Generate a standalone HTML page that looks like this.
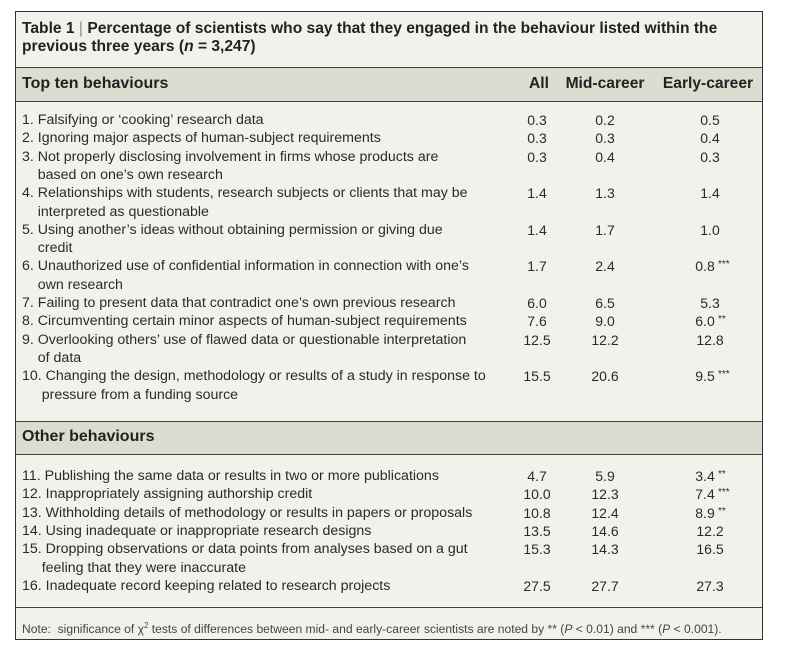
<!DOCTYPE html>
<html><head><meta charset="utf-8"><style>
body{margin:0;width:787px;height:657px;background:#fff;position:relative;overflow:hidden;font-family:"Liberation Sans",sans-serif;color:#2a2a2a}
.box{position:absolute;left:15px;top:11px;width:748px;height:629px;border:1px solid #333;background:#f2f2ed;box-sizing:border-box}
.band{position:absolute;left:16px;width:746px;background:#dcdcd0;border-top:1px solid #444;border-bottom:1px solid #444}
.t{position:absolute;white-space:nowrap;font-size:14.2px;line-height:16px}
.b{font-weight:bold;font-size:16px;color:#222}
.n{position:absolute;font-size:14px;line-height:16px;width:60px;text-align:center;white-space:nowrap}
.h{font-size:15.6px}
.s{position:absolute;font-size:10px;line-height:12px;white-space:nowrap}
</style></head><body>
<div class="box"></div>
<div class="t b" style="left:22px;top:21px;font-size:15.6px">Table 1 <span style="font-weight:normal;color:#888">|</span> Percentage of scientists who say that they engaged in the behaviour listed within the</div>
<div class="t b" style="left:22px;top:39px;font-size:15.6px">previous three years (<i>n</i> = 3,247)</div>
<div class="band" style="top:67px;height:33px"></div>
<div class="t b" style="left:22px;top:76px">Top ten behaviours</div>
<div class="n b h" style="left:509px;top:76px">All</div>
<div class="n b h" style="left:560px;top:76px;width:90px">Mid-career</div>
<div class="n b h" style="left:658px;top:76px;width:100px">Early-career</div>
<div class="band" style="top:421px;height:32px"></div>
<div class="t b" style="left:22px;top:429px">Other behaviours</div>
<div style="position:absolute;left:16px;top:607px;width:746px;border-top:1px solid #444"></div>
<div class="t" style="left:22px;top:618px;font-size:12.1px;color:#444">Note:&nbsp; significance of χ<sup style="font-size:8px">2</sup> tests of differences between mid- and early-career scientists are noted by ** (<i>P</i> &lt; 0.01) and *** (<i>P</i> &lt; 0.001).</div>
<div id="rows"></div>
<script>
var rows=[
[120,"1. Falsifying or ‘cooking’ research data","0.3","0.2","0.5",""],
[138.3,"2. Ignoring major aspects of human-subject requirements","0.3","0.3","0.4",""],
[156.6,"3. Not properly disclosing involvement in firms whose products are","0.3","0.4","0.3",""],
[174.9,"&nbsp;&nbsp;&nbsp;&nbsp;based on one’s own research"],
[193.2,"4. Relationships with students, research subjects or clients that may be","1.4","1.3","1.4",""],
[211.5,"&nbsp;&nbsp;&nbsp;&nbsp;interpreted as questionable"],
[229.8,"5. Using another’s ideas without obtaining permission or giving due","1.4","1.7","1.0",""],
[248.1,"&nbsp;&nbsp;&nbsp;&nbsp;credit"],
[266.4,"6. Unauthorized use of confidential information in connection with one’s","1.7","2.4","0.8","***"],
[284.7,"&nbsp;&nbsp;&nbsp;&nbsp;own research"],
[303,"7. Failing to present data that contradict one’s own previous research","6.0","6.5","5.3",""],
[321.3,"8. Circumventing certain minor aspects of human-subject requirements","7.6","9.0","6.0","**"],
[339.6,"9. Overlooking others’ use of flawed data or questionable interpretation","12.5","12.2","12.8",""],
[357.9,"&nbsp;&nbsp;&nbsp;&nbsp;of data"],
[376.2,"10. Changing the design, methodology or results of a study in response to","15.5","20.6","9.5","***"],
[394.5,"&nbsp;&nbsp;&nbsp;&nbsp;&nbsp;pressure from a funding source"],
[476,"11. Publishing the same data or results in two or more publications","4.7","5.9","3.4","**"],
[494.3,"12. Inappropriately assigning authorship credit","10.0","12.3","7.4","***"],
[512.6,"13. Withholding details of methodology or results in papers or proposals","10.8","12.4","8.9","**"],
[530.9,"14. Using inadequate or inappropriate research designs","13.5","14.6","12.2",""],
[549.2,"15. Dropping observations or data points from analyses based on a gut","15.3","14.3","16.5",""],
[567.5,"&nbsp;&nbsp;&nbsp;&nbsp;&nbsp;feeling that they were inaccurate"],
[585.8,"16. Inadequate record keeping related to research projects","27.5","27.7","27.3",""]];
var h="";
rows.forEach(function(r){var t=r[0]-8;
h+='<div class="t" style="left:22px;top:'+t+'px">'+r[1]+'</div>';
if(r[2]){h+='<div class="n" style="left:507px;top:'+t+'px">'+r[2]+'</div>';
h+='<div class="n" style="left:575px;top:'+t+'px">'+r[3]+'</div>';
var ex=r[5]?-5:0;
h+='<div class="n" style="left:'+(680+ex)+'px;top:'+t+'px">'+r[4]+'</div>';
if(r[5])h+='<div class="s" style="left:'+(723+ex)+'px;top:'+(t+1)+'px">'+r[5]+'</div>';}
});
document.getElementById("rows").innerHTML=h;
</script>
</body></html>
